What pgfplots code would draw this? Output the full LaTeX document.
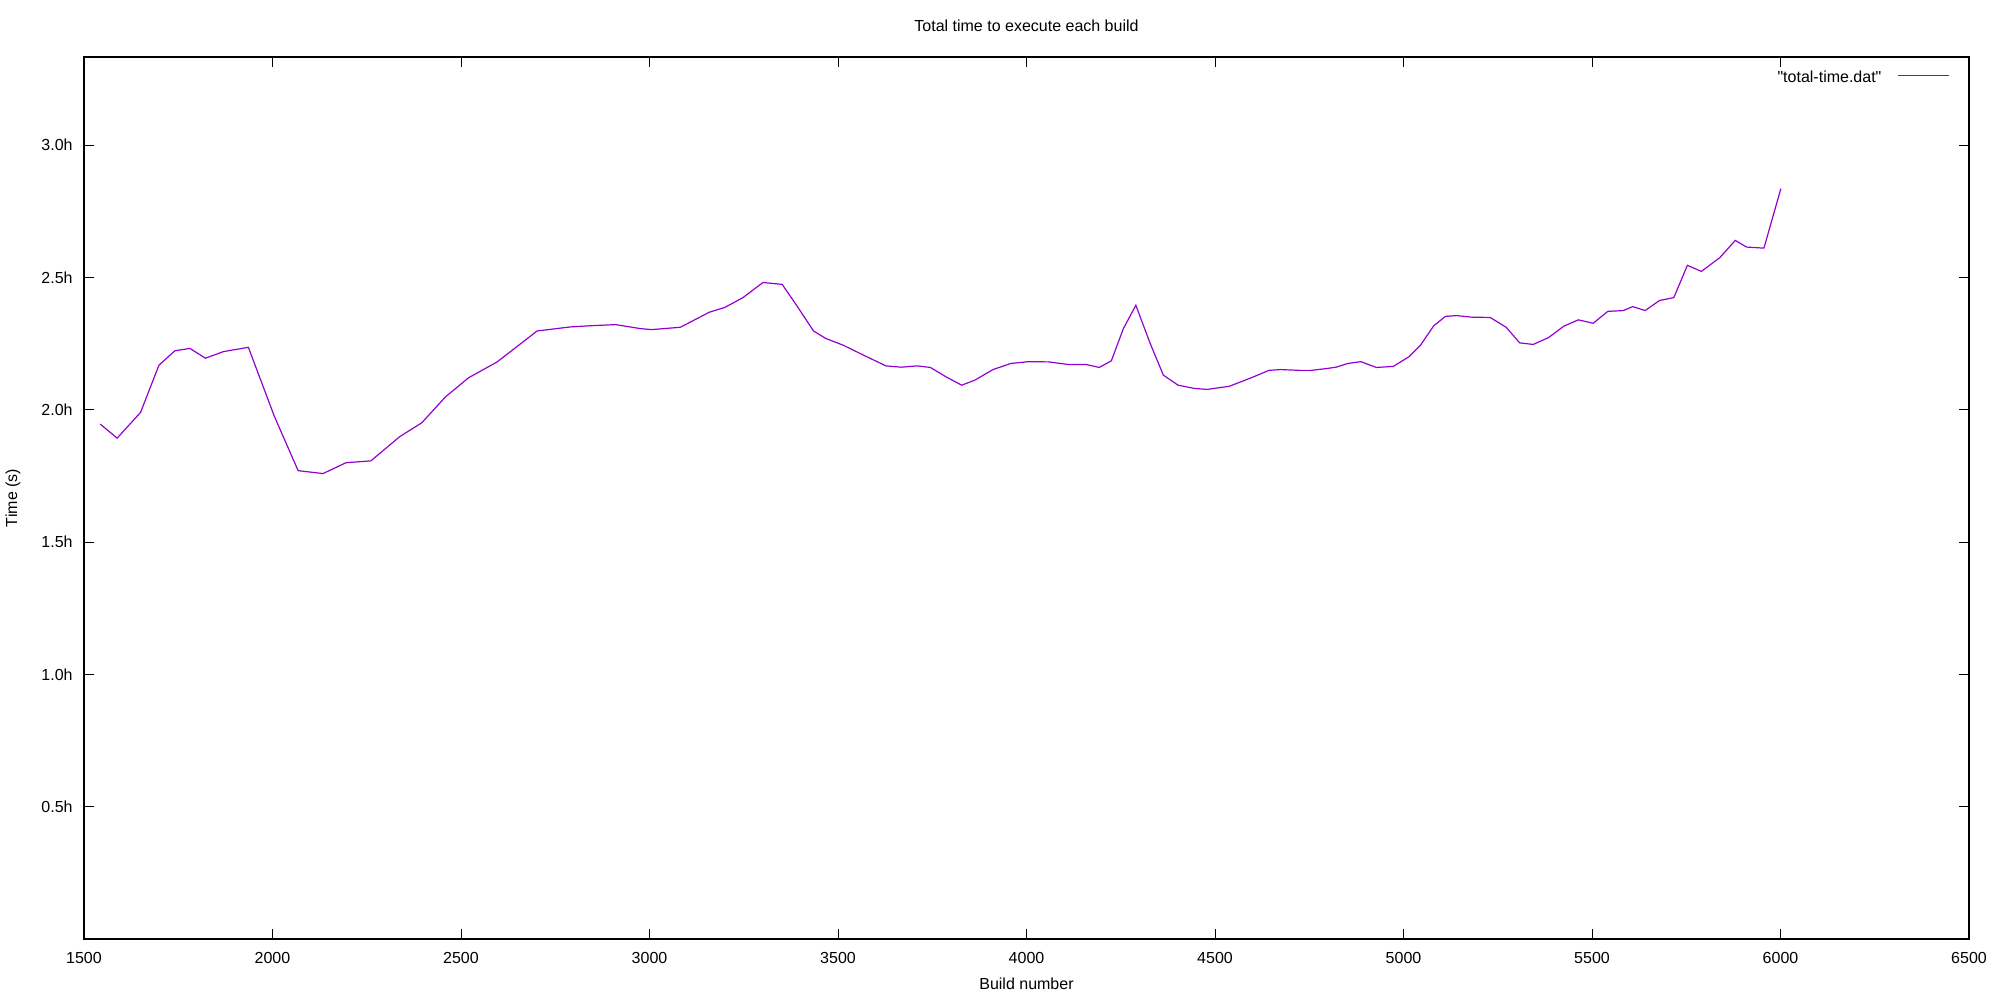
\documentclass[border=0pt]{standalone}
\usepackage{fontspec}
\setmainfont{Liberation Sans}[Ligatures=TeXOff]
\usepackage{pgfplots}
\pgfplotsset{compat=1.18}

\definecolor{gpviolet}{HTML}{9400D3}

% build number vs. total time (hours)
\pgfplotstableread{
x y
1543 1.946
1588 1.893
1650 1.990
1699 2.169
1741 2.223
1781 2.232
1822 2.195
1870 2.220
1936 2.236
2005 1.975
2068 1.770
2134 1.759
2195 1.800
2261 1.807
2337 1.898
2396 1.951
2459 2.049
2520 2.121
2596 2.181
2702 2.298
2789 2.313
2834 2.317
2910 2.322
2975 2.307
3005 2.303
3040 2.307
3082 2.312
3159 2.369
3200 2.387
3248 2.424
3301 2.481
3352 2.474
3390 2.395
3435 2.298
3467 2.270
3514 2.244
3567 2.207
3627 2.166
3668 2.161
3710 2.166
3745 2.160
3786 2.125
3828 2.093
3863 2.112
3911 2.152
3958 2.175
4006 2.182
4059 2.181
4112 2.171
4159 2.171
4193 2.160
4225 2.185
4257 2.307
4290 2.395
4328 2.251
4363 2.131
4402 2.093
4444 2.081
4479 2.077
4538 2.089
4598 2.122
4643 2.149
4674 2.152
4725 2.149
4755 2.149
4791 2.155
4821 2.161
4852 2.175
4887 2.182
4928 2.160
4973 2.164
5014 2.200
5045 2.244
5080 2.317
5111 2.353
5141 2.356
5181 2.350
5230 2.349
5273 2.311
5308 2.253
5344 2.247
5385 2.273
5425 2.316
5464 2.340
5503 2.327
5542 2.372
5583 2.375
5608 2.390
5641 2.375
5679 2.413
5717 2.424
5753 2.546
5790 2.523
5839 2.575
5880 2.640
5910 2.615
5956 2.611
6001 2.836
}\totaltime

\begin{document}
\begin{tikzpicture}
\useasboundingbox (-42bp,-30.5bp) rectangle (958bp,469.5bp);
\begin{axis}[
  at={(0,0)}, anchor=south west,
  scale only axis, width=942.5bp, height=441bp,
  font=\fontsize{8bp}{9.6bp}\selectfont,
  xmin=1500, xmax=6500, ymin=0, ymax=3.333333,
  xtick={1500,2000,...,6500},
  ytick={0.5,1,1.5,2,2.5,3},
  yticklabels={0.5h,1.0h,1.5h,2.0h,2.5h,3.0h},
  /pgf/number format/assume math mode=true,
  /pgf/number format/1000 sep={},
  major tick length=5bp,
  tick style={black, line width=0.5bp},
  axis line style={line width=0.6bp},
  xticklabel style={anchor=north, inner sep=0pt, yshift=-6.5bp},
  yticklabel style={anchor=east, inner sep=0pt, xshift=-5.5bp},
  every axis title shift=0pt,
  title={Total time to execute each build},
  title style={at={(axis description cs:0.5,1)}, anchor=center, yshift=15.75bp, inner sep=0pt},
  xlabel={Build number},
  xlabel style={at={(axis description cs:0.5,0)}, anchor=center, yshift=-22.2bp, inner sep=0pt},
  ylabel={Time (s)},
  ylabel style={at={(axis description cs:0,0.5)}, anchor=center, yshift=35.5bp, inner sep=0pt},
  legend plot pos=right,
  legend style={draw=none, fill=none, inner sep=0pt, column sep=8bp,
    at={(rel axis cs:0.98992,0.97620)}, anchor=east,
    nodes={inner sep=0pt}, font=\fontsize{8bp}{9.6bp}\selectfont},
  legend image code/.code={\draw[#1] (0bp,1.3bp) -- (25.5bp,1.3bp);},
]
\addplot[gpviolet, line width=0.6bp] table[x=x, y=y] {\totaltime};
\addlegendentry{"total-time.dat"}
\end{axis}
\end{tikzpicture}
\end{document}
